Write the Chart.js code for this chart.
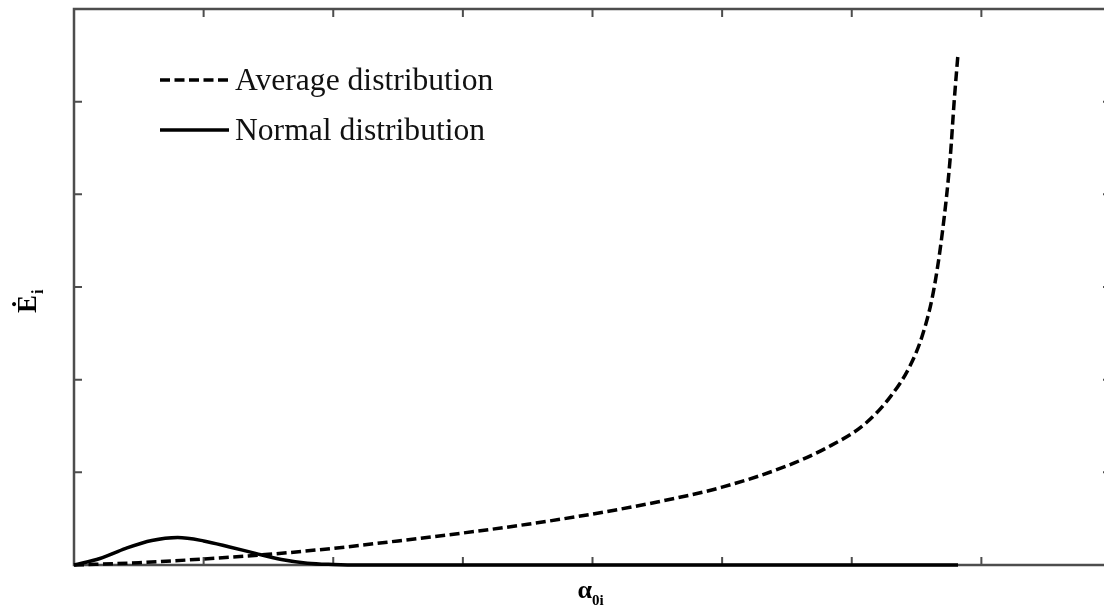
<!DOCTYPE html>
<html>
<head>
<meta charset="utf-8">
<script src="https://cdn.jsdelivr.net/npm/chart.js@4.4.1/dist/chart.umd.min.js"></script>
<style>
body{margin:0;background:#fff;overflow:hidden;}
canvas{display:block;}
</style>
</head>
<body>
<canvas id="grafico" width="1114" height="613"></canvas>
<script>

// data (axis units: x 0..8, y 0..6, no tick labels)
const xTicks = [0,1,2,3,4,5,6,7,8]
const yTicks = [0,1,2,3,4,5,6]

const promedioX = [0,0.5,1.0,1.5,2.0,2.5,3.0,3.5,4.0,4.5,5.0,5.5,5.8,6.1,6.3,6.45,6.55,6.63,6.7,6.76,6.79,6.82]
const promedioY = [0,0.025,0.065,0.115,0.18,0.26,0.345,0.44,0.55,0.68,0.84,1.07,1.26,1.52,1.82,2.15,2.50,2.95,3.6,4.4,5.0,5.52]

const normalX = [0,0.2,0.4,0.6,0.8,1.0,1.2,1.4,1.6,1.8,2.0,2.2,2.6,6.82]
const normalY = [0,0.07,0.18,0.265,0.296,0.26,0.195,0.125,0.06,0.02,0.006,0,0,0]

const etiquetas = ["Average distribution","Normal distribution"]

const fuente = "'Liberation Serif','Times New Roman',serif"

function puntos(xs, ys){
  return xs.map((x,i) => ({x:x, y:ys[i]}))
}

/* marco con ticks hacia adentro */
const marco = {
  id:"marco",
  beforeDatasetsDraw(chart){
    const ctx = chart.ctx
    const a = chart.chartArea
    const sx = chart.scales.x
    const sy = chart.scales.y
    ctx.save()
    ctx.strokeStyle = "#4d4d4d"
    ctx.lineWidth = 2.5
    ctx.strokeRect(a.left, a.top, a.right-a.left, a.bottom-a.top)
    ctx.lineWidth = 2
    ctx.beginPath()
    xTicks.forEach(v => {
      const px = sx.getPixelForValue(v)
      ctx.moveTo(px, a.bottom); ctx.lineTo(px, a.bottom-8)
      ctx.moveTo(px, a.top); ctx.lineTo(px, a.top+8)
    })
    yTicks.forEach(v => {
      const py = sy.getPixelForValue(v)
      ctx.moveTo(a.left, py); ctx.lineTo(a.left+8, py)
      ctx.moveTo(a.right, py); ctx.lineTo(a.right-8, py)
    })
    ctx.stroke()
    ctx.restore()
  }
}

/* leyenda y titulos de ejes */
const textos = {
  id:"textos",
  afterDraw(chart){
    const ctx = chart.ctx
    ctx.save()

    // leyenda
    chart.data.datasets.forEach((ds,i) => {
      const y = 80 + i*50
      ctx.strokeStyle = ds.borderColor
      ctx.lineWidth = ds.borderWidth
      ctx.setLineDash(ds.borderDash || [])
      ctx.beginPath()
      ctx.moveTo(160, y); ctx.lineTo(229, y)
      ctx.stroke()
      ctx.setLineDash([])
      ctx.fillStyle = "#111"
      ctx.font = "31.6px " + fuente
      ctx.textBaseline = "alphabetic"
      ctx.textAlign = "left"
      ctx.fillText(ds.label, 235, y+10)
    })

    // titulo eje x
    const cx = (chart.chartArea.left + chart.chartArea.right)/2
    ctx.fillStyle = "#000"
    ctx.font = "bold 26px " + fuente
    const wa = ctx.measureText("α").width
    ctx.font = "bold 15px " + fuente
    const ws = ctx.measureText("0i").width
    const x0 = cx - (wa+ws)/2 - 2
    ctx.font = "bold 26px " + fuente
    ctx.fillText("α", x0, 598)
    ctx.font = "bold 15px " + fuente
    ctx.fillText("0i", x0+wa, 605)

    // titulo eje y
    ctx.translate(36, 313)
    ctx.rotate(-Math.PI/2)
    ctx.font = "bold 27px " + fuente
    const we = ctx.measureText("Ė").width
    ctx.fillText("Ė", 0, 0)
    ctx.font = "bold 16px " + fuente
    ctx.fillText("i", we+1, 7)

    ctx.restore()
  }
}

new Chart(document.getElementById("grafico"),{
  type:"line",
  data:{
    datasets:[
      {
        label:etiquetas[0],
        data:puntos(promedioX,promedioY),
        borderColor:"#000",
        borderWidth:3.5,
        borderDash:[10,4.5],
        pointRadius:0,
        cubicInterpolationMode:"monotone",
        clip:false
      },
      {
        label:etiquetas[1],
        data:puntos(normalX,normalY),
        borderColor:"#000",
        borderWidth:3.5,
        pointRadius:0,
        cubicInterpolationMode:"monotone",
        clip:false
      }
    ]
  },
  options:{
    responsive:false,
    devicePixelRatio:1,
    animation:false,
    layout:{padding:{left:74,top:9,right:3,bottom:48}},
    plugins:{legend:{display:false},tooltip:{enabled:false}},
    scales:{
      x:{type:"linear",min:0,max:8,display:false,ticks:{stepSize:1}},
      y:{type:"linear",min:0,max:6,display:false,ticks:{stepSize:1}}
    }
  },
  plugins:[marco,textos]
})

</script>
</body>
</html>
